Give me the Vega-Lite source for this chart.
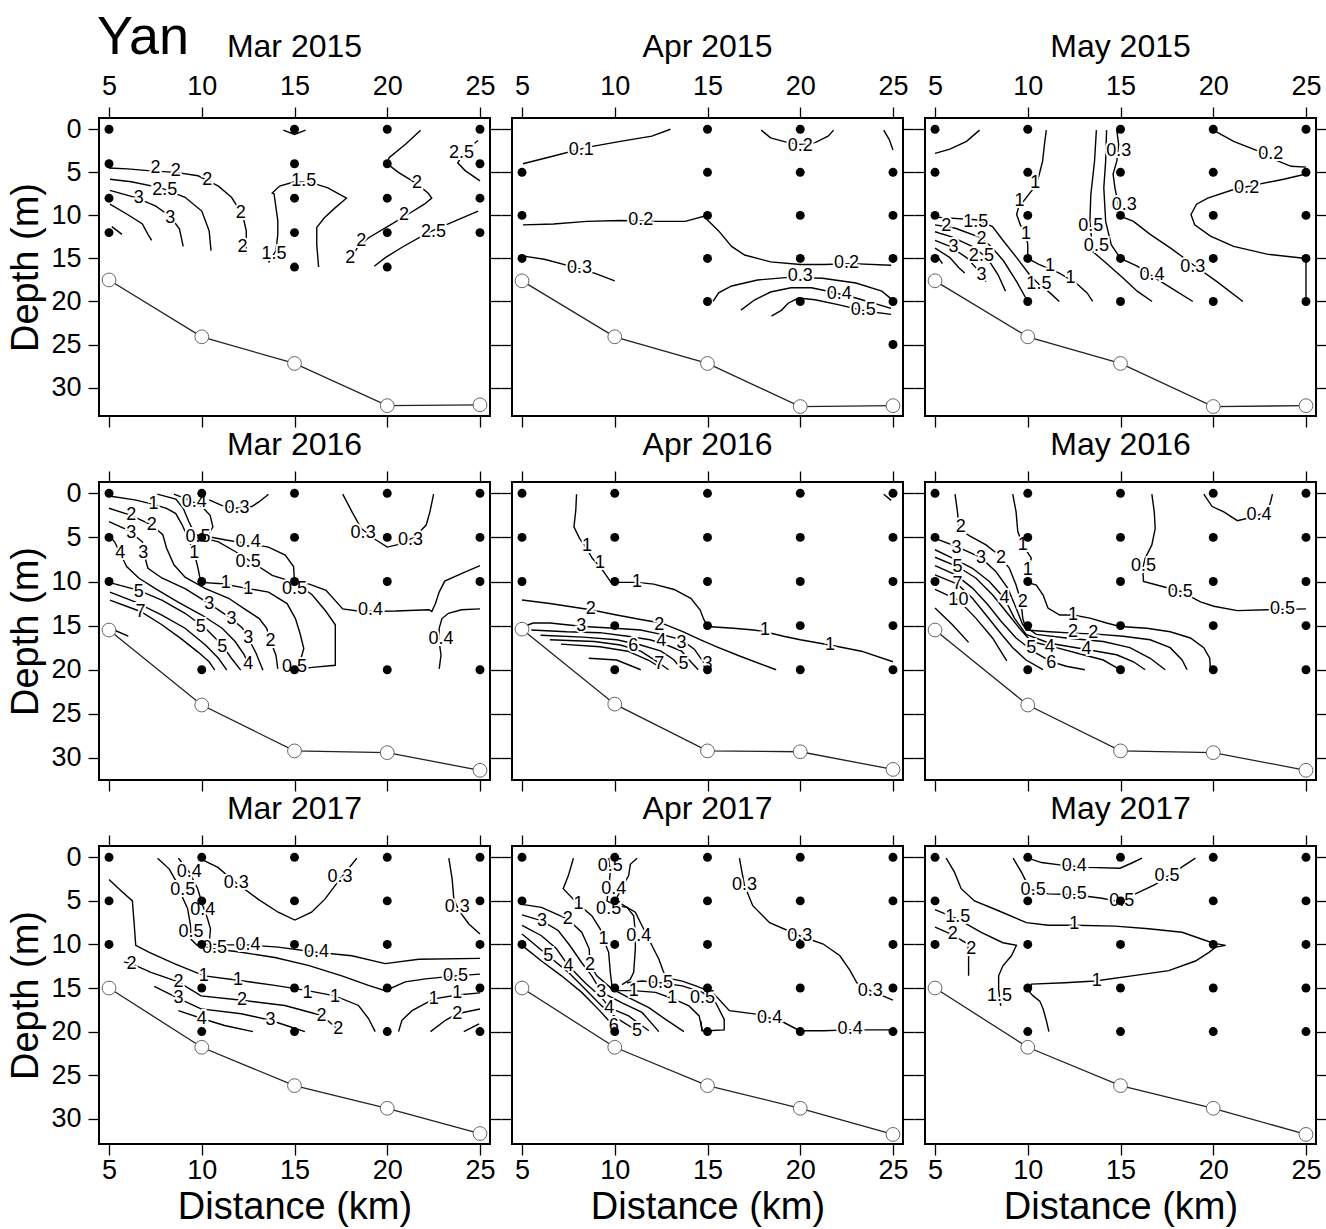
{
"$schema":"https://vega.github.io/schema/vega-lite/v6.json",
"autosize":{"type":"pad"},
"padding":{"left":6,"top":11,"right":0,"bottom":0},
"background":"white",
"config":{"font":"Liberation Sans","view":{"stroke":"black","strokeWidth":2},
"axis":{"domain":false,"grid":false,"ticks":true,"tickSize":11,"tickWidth":1.3,"tickColor":"black","labelFontSize":27,"labelColor":"black","labelPadding":7,"titleFontSize":38,"titleFontWeight":"normal","titleColor":"black","titlePadding":5,"labelFlush":false,"labelOverlap":false},
"title":{"fontSize":32,"fontWeight":"normal","color":"black","offset":8}},
"title":{"text":"Yan","fontSize":54,"fontWeight":"normal","anchor":"start","offset":-35,"dx":90,"color":"black"},
"datasets":{
"lines":[
{"p":"A","c":1,"x":5.0,"y":4.5},{"p":"A","c":1,"x":6.0,"y":4.6},{"p":"A","c":1,"x":7.1,"y":4.8},{"p":"A","c":1,"x":8.6,"y":5.0},{"p":"A","c":1,"x":9.8,"y":5.4},{"p":"A","c":1,"x":10.9,"y":6.6},{"p":"A","c":1,"x":11.6,"y":7.9},{"p":"A","c":1,"x":12.2,"y":9.9},{"p":"A","c":1,"x":12.4,"y":11.8},{"p":"A","c":1,"x":12.4,"y":13.4},{"p":"A","c":1,"x":12.4,"y":14.5},
{"p":"A","c":2,"x":5.05,"y":5.8},{"p":"A","c":2,"x":6.2,"y":6.1},{"p":"A","c":2,"x":7.8,"y":6.8},{"p":"A","c":2,"x":9.1,"y":7.9},{"p":"A","c":2,"x":10.0,"y":9.5},{"p":"A","c":2,"x":10.4,"y":11.8},{"p":"A","c":2,"x":10.5,"y":14.1},
{"p":"A","c":3,"x":5.05,"y":7.1},{"p":"A","c":3,"x":6.4,"y":7.9},{"p":"A","c":3,"x":7.5,"y":8.9},{"p":"A","c":3,"x":8.3,"y":10.1},{"p":"A","c":3,"x":8.8,"y":11.6},{"p":"A","c":3,"x":9.0,"y":13.6},
{"p":"A","c":4,"x":5.05,"y":8.7},{"p":"A","c":4,"x":6.0,"y":9.9},{"p":"A","c":4,"x":6.8,"y":11.0},{"p":"A","c":4,"x":7.1,"y":12.2},{"p":"A","c":4,"x":7.3,"y":12.9},
{"p":"A","c":5,"x":5.15,"y":11.3},{"p":"A","c":5,"x":5.7,"y":12.2},
{"p":"A","c":6,"x":13.6,"y":15.5},{"p":"A","c":6,"x":14.0,"y":14.1},{"p":"A","c":6,"x":14.1,"y":12.2},{"p":"A","c":6,"x":14.1,"y":10.6},{"p":"A","c":6,"x":14.0,"y":9.1},{"p":"A","c":6,"x":13.9,"y":7.5},{"p":"A","c":6,"x":13.8,"y":7.4},{"p":"A","c":6,"x":14.2,"y":6.6},{"p":"A","c":6,"x":15.0,"y":6.1},{"p":"A","c":6,"x":15.9,"y":6.2},{"p":"A","c":6,"x":16.8,"y":6.8},{"p":"A","c":6,"x":17.8,"y":8.0},{"p":"A","c":6,"x":17.2,"y":9.1},{"p":"A","c":6,"x":16.6,"y":10.3},{"p":"A","c":6,"x":16.2,"y":11.4},{"p":"A","c":6,"x":16.2,"y":13.4},{"p":"A","c":6,"x":16.3,"y":16.0},
{"p":"A","c":7,"x":14.4,"y":0.1},{"p":"A","c":7,"x":15.0,"y":0.6},{"p":"A","c":7,"x":15.6,"y":0.1},
{"p":"A","c":8,"x":21.8,"y":0.1},{"p":"A","c":8,"x":21.0,"y":1.7},{"p":"A","c":8,"x":20.1,"y":3.3},{"p":"A","c":8,"x":20.0,"y":4.0},{"p":"A","c":8,"x":20.6,"y":5.0},{"p":"A","c":8,"x":21.5,"y":6.2},{"p":"A","c":8,"x":22.2,"y":7.4},{"p":"A","c":8,"x":22.4,"y":8.0},{"p":"A","c":8,"x":22.0,"y":8.7},{"p":"A","c":8,"x":21.1,"y":9.9},{"p":"A","c":8,"x":20.1,"y":11.2},{"p":"A","c":8,"x":19.0,"y":12.6},{"p":"A","c":8,"x":18.4,"y":13.7},{"p":"A","c":8,"x":17.9,"y":15.7},
{"p":"A","c":9,"x":24.9,"y":9.5},{"p":"A","c":9,"x":23.7,"y":10.6},{"p":"A","c":9,"x":22.2,"y":12.0},{"p":"A","c":9,"x":20.8,"y":13.7},{"p":"A","c":9,"x":19.9,"y":14.9},{"p":"A","c":9,"x":19.3,"y":15.9},
{"p":"A","c":10,"x":24.9,"y":1.3},{"p":"A","c":10,"x":24.2,"y":2.5},{"p":"A","c":10,"x":23.8,"y":3.9},{"p":"A","c":10,"x":24.2,"y":4.8},{"p":"A","c":10,"x":25.0,"y":6.0},

{"p":"B","c":1,"x":5.05,"y":4.0},{"p":"B","c":1,"x":6.7,"y":3.1},{"p":"B","c":1,"x":8.5,"y":2.1},{"p":"B","c":1,"x":10.3,"y":1.4},{"p":"B","c":1,"x":12.0,"y":0.8},{"p":"B","c":1,"x":13.0,"y":0.0},
{"p":"B","c":2,"x":17.9,"y":0.1},{"p":"B","c":2,"x":18.4,"y":1.0},{"p":"B","c":2,"x":19.35,"y":1.55},{"p":"B","c":2,"x":20.0,"y":1.75},{"p":"B","c":2,"x":20.8,"y":1.55},{"p":"B","c":2,"x":21.5,"y":0.8},{"p":"B","c":2,"x":21.8,"y":0.1},
{"p":"B","c":3,"x":24.5,"y":0.1},{"p":"B","c":3,"x":24.8,"y":1.2},{"p":"B","c":3,"x":25.0,"y":2.4},
{"p":"B","c":4,"x":5.05,"y":11.1},{"p":"B","c":4,"x":6.7,"y":11.0},{"p":"B","c":4,"x":8.5,"y":10.7},{"p":"B","c":4,"x":10.3,"y":10.6},{"p":"B","c":4,"x":12.1,"y":10.7},{"p":"B","c":4,"x":13.8,"y":10.7},{"p":"B","c":4,"x":14.8,"y":10.1},{"p":"B","c":4,"x":15.6,"y":11.8},{"p":"B","c":4,"x":16.3,"y":13.6},{"p":"B","c":4,"x":17.0,"y":14.6},{"p":"B","c":4,"x":18.4,"y":15.4},{"p":"B","c":4,"x":20.0,"y":15.7},{"p":"B","c":4,"x":21.3,"y":15.7},{"p":"B","c":4,"x":22.8,"y":15.6},{"p":"B","c":4,"x":24.9,"y":15.8},
{"p":"B","c":5,"x":5.0,"y":14.7},{"p":"B","c":5,"x":6.2,"y":15.1},{"p":"B","c":5,"x":7.6,"y":15.9},{"p":"B","c":5,"x":8.9,"y":16.7},{"p":"B","c":5,"x":10.0,"y":17.6},
{"p":"B","c":6,"x":15.3,"y":20.0},{"p":"B","c":6,"x":15.6,"y":19.0},{"p":"B","c":6,"x":16.3,"y":18.2},{"p":"B","c":6,"x":17.7,"y":17.5},{"p":"B","c":6,"x":19.35,"y":17.2},{"p":"B","c":6,"x":21.2,"y":17.3},{"p":"B","c":6,"x":23.0,"y":17.85},{"p":"B","c":6,"x":24.4,"y":18.8},{"p":"B","c":6,"x":24.9,"y":19.7},
{"p":"B","c":7,"x":16.8,"y":21.0},{"p":"B","c":7,"x":17.55,"y":19.8},{"p":"B","c":7,"x":18.4,"y":18.9},{"p":"B","c":7,"x":19.5,"y":18.4},{"p":"B","c":7,"x":20.6,"y":18.4},{"p":"B","c":7,"x":21.7,"y":18.9},{"p":"B","c":7,"x":23.0,"y":19.6},{"p":"B","c":7,"x":24.9,"y":20.8},
{"p":"B","c":8,"x":18.45,"y":21.7},{"p":"B","c":8,"x":19.0,"y":21.0},{"p":"B","c":8,"x":19.35,"y":20.2},{"p":"B","c":8,"x":19.9,"y":19.6},{"p":"B","c":8,"x":20.8,"y":19.8},{"p":"B","c":8,"x":22.1,"y":20.4},{"p":"B","c":8,"x":23.5,"y":21.1},{"p":"B","c":8,"x":24.9,"y":21.5},

{"p":"C","c":1,"x":5.0,"y":2.8},{"p":"C","c":1,"x":5.8,"y":2.3},{"p":"C","c":1,"x":6.7,"y":1.4},{"p":"C","c":1,"x":7.4,"y":0.1},
{"p":"C","c":2,"x":11.0,"y":0.1},{"p":"C","c":2,"x":10.9,"y":1.75},{"p":"C","c":2,"x":10.8,"y":3.7},{"p":"C","c":2,"x":10.6,"y":5.4},{"p":"C","c":2,"x":10.4,"y":6.6},{"p":"C","c":2,"x":9.9,"y":8.0},{"p":"C","c":2,"x":9.5,"y":9.1},{"p":"C","c":2,"x":9.4,"y":9.9},{"p":"C","c":2,"x":9.6,"y":11.1},{"p":"C","c":2,"x":9.9,"y":12.2},{"p":"C","c":2,"x":10.0,"y":13.4},{"p":"C","c":2,"x":10.0,"y":15.0},{"p":"C","c":2,"x":10.6,"y":15.7},{"p":"C","c":2,"x":11.7,"y":16.7},{"p":"C","c":2,"x":12.6,"y":17.85},{"p":"C","c":2,"x":13.2,"y":19.0},{"p":"C","c":2,"x":13.5,"y":20.0},
{"p":"C","c":3,"x":5.0,"y":10.2},{"p":"C","c":3,"x":7.2,"y":10.5},{"p":"C","c":3,"x":8.1,"y":11.3},{"p":"C","c":3,"x":8.7,"y":13.0},{"p":"C","c":3,"x":9.4,"y":14.9},{"p":"C","c":3,"x":10.1,"y":16.9},{"p":"C","c":3,"x":10.6,"y":18.0},{"p":"C","c":3,"x":11.2,"y":19.0},{"p":"C","c":3,"x":11.7,"y":20.0},
{"p":"C","c":4,"x":5.0,"y":11.1},{"p":"C","c":4,"x":6.1,"y":11.5},{"p":"C","c":4,"x":7.5,"y":12.6},{"p":"C","c":4,"x":8.1,"y":13.8},{"p":"C","c":4,"x":8.7,"y":15.3},{"p":"C","c":4,"x":9.4,"y":17.7},{"p":"C","c":4,"x":10.0,"y":20.0},
{"p":"C","c":5,"x":5.0,"y":11.9},{"p":"C","c":5,"x":5.9,"y":12.5},{"p":"C","c":5,"x":7.0,"y":13.6},{"p":"C","c":5,"x":7.8,"y":14.9},{"p":"C","c":5,"x":8.4,"y":16.9},{"p":"C","c":5,"x":8.8,"y":18.8},
{"p":"C","c":6,"x":5.0,"y":12.9},{"p":"C","c":6,"x":5.8,"y":13.6},{"p":"C","c":6,"x":6.7,"y":14.9},{"p":"C","c":6,"x":7.3,"y":16.3},{"p":"C","c":6,"x":7.75,"y":17.7},
{"p":"C","c":7,"x":5.0,"y":13.8},{"p":"C","c":7,"x":5.8,"y":14.9},{"p":"C","c":7,"x":6.3,"y":16.1},{"p":"C","c":7,"x":6.6,"y":16.7},
{"p":"C","c":8,"x":5.2,"y":15.0},{"p":"C","c":8,"x":5.4,"y":15.6},
{"p":"C","c":9,"x":14.8,"y":0.1},{"p":"C","c":9,"x":14.9,"y":1.75},{"p":"C","c":9,"x":14.8,"y":3.7},{"p":"C","c":9,"x":14.6,"y":5.2},{"p":"C","c":9,"x":14.7,"y":6.8},{"p":"C","c":9,"x":15.0,"y":10.1},{"p":"C","c":9,"x":15.7,"y":10.7},{"p":"C","c":9,"x":16.6,"y":12.2},{"p":"C","c":9,"x":17.7,"y":13.8},{"p":"C","c":9,"x":18.9,"y":15.7},{"p":"C","c":9,"x":20.2,"y":17.7},{"p":"C","c":9,"x":21.6,"y":20.0},
{"p":"C","c":10,"x":14.25,"y":0.1},{"p":"C","c":10,"x":14.2,"y":3.7},{"p":"C","c":10,"x":14.1,"y":6.8},{"p":"C","c":10,"x":14.2,"y":10.7},{"p":"C","c":10,"x":14.5,"y":13.4},{"p":"C","c":10,"x":15.0,"y":15.0},{"p":"C","c":10,"x":15.9,"y":15.9},{"p":"C","c":10,"x":16.6,"y":16.9},{"p":"C","c":10,"x":17.7,"y":18.4},{"p":"C","c":10,"x":18.9,"y":20.0},
{"p":"C","c":11,"x":13.7,"y":0.1},{"p":"C","c":11,"x":13.6,"y":3.7},{"p":"C","c":11,"x":13.4,"y":7.6},{"p":"C","c":11,"x":13.35,"y":10.7},{"p":"C","c":11,"x":13.5,"y":14.2},{"p":"C","c":11,"x":14.1,"y":15.3},{"p":"C","c":11,"x":15.15,"y":17.3},{"p":"C","c":11,"x":15.9,"y":18.8},{"p":"C","c":11,"x":16.7,"y":20.0},
{"p":"C","c":12,"x":20.0,"y":0.1},{"p":"C","c":12,"x":21.1,"y":1.4},{"p":"C","c":12,"x":22.4,"y":2.5},{"p":"C","c":12,"x":23.5,"y":3.7},{"p":"C","c":12,"x":24.2,"y":4.3},{"p":"C","c":12,"x":25.0,"y":4.4},
{"p":"C","c":13,"x":25.0,"y":5.2},{"p":"C","c":13,"x":23.8,"y":5.8},{"p":"C","c":13,"x":22.4,"y":6.4},{"p":"C","c":13,"x":21.1,"y":7.0},{"p":"C","c":13,"x":19.7,"y":8.0},{"p":"C","c":13,"x":19.1,"y":8.7},{"p":"C","c":13,"x":18.8,"y":9.9},{"p":"C","c":13,"x":19.0,"y":11.1},{"p":"C","c":13,"x":19.85,"y":12.4},{"p":"C","c":13,"x":21.1,"y":13.6},{"p":"C","c":13,"x":22.9,"y":14.5},{"p":"C","c":13,"x":25.0,"y":15.0},
{"p":"C","c":14,"x":25.0,"y":15.0},{"p":"C","c":14,"x":25.0,"y":20.0},

{"p":"D","c":1,"x":5.0,"y":0.3},{"p":"D","c":1,"x":6.4,"y":0.75},{"p":"D","c":1,"x":7.4,"y":1.25},{"p":"D","c":1,"x":8.1,"y":1.7},{"p":"D","c":1,"x":8.6,"y":2.3},{"p":"D","c":1,"x":8.95,"y":3.6},{"p":"D","c":1,"x":9.3,"y":5.3},{"p":"D","c":1,"x":9.6,"y":6.8},{"p":"D","c":1,"x":9.8,"y":8.5},{"p":"D","c":1,"x":9.95,"y":10.1},{"p":"D","c":1,"x":11.1,"y":10.25},{"p":"D","c":1,"x":12.5,"y":10.8},{"p":"D","c":1,"x":13.6,"y":11.2},{"p":"D","c":1,"x":14.6,"y":12.5},{"p":"D","c":1,"x":15.05,"y":14.2},{"p":"D","c":1,"x":15.3,"y":15.9},{"p":"D","c":1,"x":15.5,"y":17.6},{"p":"D","c":1,"x":15.3,"y":19.1},{"p":"D","c":1,"x":15.0,"y":19.8},
{"p":"D","c":2,"x":8.5,"y":0.1},{"p":"D","c":2,"x":9.3,"y":0.75},{"p":"D","c":2,"x":10.0,"y":1.5},{"p":"D","c":2,"x":10.45,"y":2.5},{"p":"D","c":2,"x":10.6,"y":3.8},{"p":"D","c":2,"x":10.3,"y":4.9},{"p":"D","c":2,"x":11.3,"y":5.3},{"p":"D","c":2,"x":12.5,"y":5.7},{"p":"D","c":2,"x":13.6,"y":6.1},{"p":"D","c":2,"x":14.5,"y":7.0},{"p":"D","c":2,"x":14.95,"y":8.3},{"p":"D","c":2,"x":15.0,"y":10.0},{"p":"D","c":2,"x":15.8,"y":10.3},{"p":"D","c":2,"x":16.7,"y":11.0},{"p":"D","c":2,"x":17.6,"y":13.1},{"p":"D","c":2,"x":18.6,"y":13.4},{"p":"D","c":2,"x":20.45,"y":13.35},{"p":"D","c":2,"x":22.25,"y":13.2},{"p":"D","c":2,"x":22.4,"y":13.4},{"p":"D","c":2,"x":22.6,"y":12.5},{"p":"D","c":2,"x":22.8,"y":11.2},{"p":"D","c":2,"x":23.1,"y":9.95},{"p":"D","c":2,"x":24.0,"y":9.1},{"p":"D","c":2,"x":25.0,"y":8.2},
{"p":"D","c":3,"x":7.6,"y":0.1},{"p":"D","c":3,"x":8.6,"y":0.65},{"p":"D","c":3,"x":9.0,"y":1.7},{"p":"D","c":3,"x":9.3,"y":3.2},{"p":"D","c":3,"x":9.6,"y":4.5},{"p":"D","c":3,"x":9.95,"y":5.0},{"p":"D","c":3,"x":10.9,"y":5.5},{"p":"D","c":3,"x":11.8,"y":6.6},{"p":"D","c":3,"x":12.7,"y":7.8},{"p":"D","c":3,"x":13.8,"y":9.3},{"p":"D","c":3,"x":15.0,"y":10.1},{"p":"D","c":3,"x":15.95,"y":11.5},{"p":"D","c":3,"x":16.7,"y":13.4},{"p":"D","c":3,"x":17.2,"y":14.9},{"p":"D","c":3,"x":17.2,"y":19.5},{"p":"D","c":3,"x":16.1,"y":19.7},{"p":"D","c":3,"x":15.05,"y":19.95},
{"p":"D","c":4,"x":10.4,"y":0.75},{"p":"D","c":4,"x":11.1,"y":1.4},{"p":"D","c":4,"x":11.8,"y":1.7},{"p":"D","c":4,"x":12.7,"y":1.5},{"p":"D","c":4,"x":13.1,"y":0.95},{"p":"D","c":4,"x":13.6,"y":0.1},
{"p":"D","c":5,"x":17.6,"y":0.1},{"p":"D","c":5,"x":18.1,"y":2.1},{"p":"D","c":5,"x":18.6,"y":4.0},{"p":"D","c":5,"x":19.4,"y":5.3},{"p":"D","c":5,"x":20.0,"y":6.1},{"p":"D","c":5,"x":20.8,"y":5.7},{"p":"D","c":5,"x":21.5,"y":4.9},{"p":"D","c":5,"x":22.1,"y":3.6},{"p":"D","c":5,"x":22.3,"y":2.1},{"p":"D","c":5,"x":22.5,"y":0.1},
{"p":"D","c":6,"x":25.0,"y":13.1},{"p":"D","c":6,"x":24.0,"y":13.2},{"p":"D","c":6,"x":23.3,"y":13.6},{"p":"D","c":6,"x":22.95,"y":14.2},{"p":"D","c":6,"x":22.8,"y":15.3},{"p":"D","c":6,"x":22.8,"y":16.8},{"p":"D","c":6,"x":22.9,"y":18.35},{"p":"D","c":6,"x":22.8,"y":19.9},
{"p":"D","c":7,"x":5.0,"y":1.7},{"p":"D","c":7,"x":6.2,"y":2.5},{"p":"D","c":7,"x":7.3,"y":3.6},{"p":"D","c":7,"x":7.9,"y":4.7},{"p":"D","c":7,"x":8.1,"y":6.2},{"p":"D","c":7,"x":8.5,"y":8.1},{"p":"D","c":7,"x":9.1,"y":9.5},{"p":"D","c":7,"x":10.2,"y":10.8},{"p":"D","c":7,"x":11.45,"y":11.9},{"p":"D","c":7,"x":12.3,"y":13.1},{"p":"D","c":7,"x":13.1,"y":14.2},{"p":"D","c":7,"x":13.5,"y":15.3},{"p":"D","c":7,"x":13.7,"y":16.7},{"p":"D","c":7,"x":14.0,"y":18.35},{"p":"D","c":7,"x":14.1,"y":19.9},
{"p":"D","c":8,"x":5.0,"y":3.2},{"p":"D","c":8,"x":6.04,"y":4.2},{"p":"D","c":8,"x":6.8,"y":5.5},{"p":"D","c":8,"x":6.9,"y":7.0},{"p":"D","c":8,"x":7.1,"y":8.5},{"p":"D","c":8,"x":7.85,"y":9.6},{"p":"D","c":8,"x":9.1,"y":10.8},{"p":"D","c":8,"x":10.4,"y":12.5},{"p":"D","c":8,"x":11.6,"y":14.2},{"p":"D","c":8,"x":12.2,"y":15.3},{"p":"D","c":8,"x":12.5,"y":16.4},{"p":"D","c":8,"x":12.9,"y":18.0},{"p":"D","c":8,"x":13.3,"y":20.05},
{"p":"D","c":9,"x":5.05,"y":4.9},{"p":"D","c":9,"x":5.3,"y":5.5},{"p":"D","c":9,"x":5.6,"y":6.8},{"p":"D","c":9,"x":5.95,"y":8.3},{"p":"D","c":9,"x":6.6,"y":9.6},{"p":"D","c":9,"x":7.5,"y":10.8},{"p":"D","c":9,"x":8.7,"y":12.3},{"p":"D","c":9,"x":10.0,"y":13.8},{"p":"D","c":9,"x":11.1,"y":15.3},{"p":"D","c":9,"x":11.8,"y":16.8},{"p":"D","c":9,"x":12.3,"y":18.35},{"p":"D","c":9,"x":12.6,"y":19.9},
{"p":"D","c":10,"x":5.0,"y":10.1},{"p":"D","c":10,"x":6.6,"y":11.0},{"p":"D","c":10,"x":7.85,"y":12.1},{"p":"D","c":10,"x":9.1,"y":13.6},{"p":"D","c":10,"x":10.2,"y":15.3},{"p":"D","c":10,"x":11.1,"y":17.2},{"p":"D","c":10,"x":11.6,"y":18.7},{"p":"D","c":10,"x":12.1,"y":20.05},
{"p":"D","c":11,"x":5.05,"y":11.2},{"p":"D","c":11,"x":6.4,"y":12.3},{"p":"D","c":11,"x":7.85,"y":13.8},{"p":"D","c":11,"x":9.1,"y":15.3},{"p":"D","c":11,"x":10.2,"y":17.2},{"p":"D","c":11,"x":10.9,"y":18.7},{"p":"D","c":11,"x":11.35,"y":20.05},
{"p":"D","c":12,"x":5.05,"y":12.1},{"p":"D","c":12,"x":6.7,"y":13.4},{"p":"D","c":12,"x":7.85,"y":14.9},{"p":"D","c":12,"x":8.9,"y":16.5},{"p":"D","c":12,"x":9.8,"y":18.0},{"p":"D","c":12,"x":10.4,"y":19.1},{"p":"D","c":12,"x":10.7,"y":20.05},
{"p":"D","c":13,"x":5.05,"y":15.3},{"p":"D","c":13,"x":6.04,"y":16.2},

{"p":"E","c":1,"x":7.94,"y":0.1},{"p":"E","c":1,"x":7.9,"y":1.9},{"p":"E","c":1,"x":7.8,"y":3.8},{"p":"E","c":1,"x":8.1,"y":5.1},{"p":"E","c":1,"x":8.4,"y":6.0},{"p":"E","c":1,"x":8.8,"y":7.4},{"p":"E","c":1,"x":9.2,"y":8.3},{"p":"E","c":1,"x":9.5,"y":9.2},{"p":"E","c":1,"x":9.8,"y":10.1},{"p":"E","c":1,"x":10.3,"y":10.1},{"p":"E","c":1,"x":11.2,"y":10.1},{"p":"E","c":1,"x":12.1,"y":10.3},{"p":"E","c":1,"x":13.2,"y":10.9},{"p":"E","c":1,"x":14.1,"y":11.9},{"p":"E","c":1,"x":14.6,"y":13.2},{"p":"E","c":1,"x":14.8,"y":14.3},{"p":"E","c":1,"x":15.0,"y":15.1},{"p":"E","c":1,"x":16.4,"y":15.3},{"p":"E","c":1,"x":17.5,"y":15.5},{"p":"E","c":1,"x":18.1,"y":15.7},{"p":"E","c":1,"x":19.1,"y":16.2},{"p":"E","c":1,"x":20.0,"y":16.6},{"p":"E","c":1,"x":21.6,"y":17.2},{"p":"E","c":1,"x":23.3,"y":17.9},{"p":"E","c":1,"x":25.0,"y":19.1},
{"p":"E","c":2,"x":5.0,"y":12.1},{"p":"E","c":2,"x":6.5,"y":12.5},{"p":"E","c":2,"x":8.7,"y":13.2},{"p":"E","c":2,"x":10.1,"y":13.8},{"p":"E","c":2,"x":11.4,"y":14.3},{"p":"E","c":2,"x":12.5,"y":14.7},{"p":"E","c":2,"x":13.7,"y":15.7},{"p":"E","c":2,"x":14.6,"y":16.6},{"p":"E","c":2,"x":15.5,"y":17.4},{"p":"E","c":2,"x":16.8,"y":18.5},{"p":"E","c":2,"x":18.7,"y":20.0},
{"p":"E","c":3,"x":5.1,"y":15.1},{"p":"E","c":3,"x":5.6,"y":14.7},{"p":"E","c":3,"x":6.5,"y":14.7},{"p":"E","c":3,"x":8.3,"y":15.1},{"p":"E","c":3,"x":10.0,"y":15.3},{"p":"E","c":3,"x":11.4,"y":15.5},{"p":"E","c":3,"x":12.5,"y":16.0},{"p":"E","c":3,"x":13.6,"y":16.6},{"p":"E","c":3,"x":14.3,"y":17.7},{"p":"E","c":3,"x":14.8,"y":19.2},
{"p":"E","c":4,"x":5.5,"y":15.5},{"p":"E","c":4,"x":7.4,"y":15.7},{"p":"E","c":4,"x":9.2,"y":15.8},{"p":"E","c":4,"x":10.7,"y":16.2},{"p":"E","c":4,"x":11.9,"y":16.6},{"p":"E","c":4,"x":12.8,"y":17.2},{"p":"E","c":4,"x":13.6,"y":17.9},{"p":"E","c":4,"x":14.1,"y":19.1},{"p":"E","c":4,"x":14.5,"y":20.0},
{"p":"E","c":5,"x":6.0,"y":16.1},{"p":"E","c":5,"x":8.3,"y":16.3},{"p":"E","c":5,"x":10.1,"y":16.6},{"p":"E","c":5,"x":11.4,"y":17.2},{"p":"E","c":5,"x":12.5,"y":17.9},{"p":"E","c":5,"x":13.2,"y":18.9},{"p":"E","c":5,"x":13.6,"y":20.0},
{"p":"E","c":6,"x":6.5,"y":16.6},{"p":"E","c":6,"x":8.9,"y":16.8},{"p":"E","c":6,"x":10.3,"y":17.2},{"p":"E","c":6,"x":11.4,"y":17.9},{"p":"E","c":6,"x":12.3,"y":19.1},{"p":"E","c":6,"x":12.9,"y":20.0},
{"p":"E","c":7,"x":7.1,"y":17.1},{"p":"E","c":7,"x":9.2,"y":17.4},{"p":"E","c":7,"x":10.7,"y":17.9},{"p":"E","c":7,"x":11.8,"y":18.9},{"p":"E","c":7,"x":12.5,"y":19.8},
{"p":"E","c":8,"x":8.6,"y":18.7},{"p":"E","c":8,"x":10.1,"y":18.9},{"p":"E","c":8,"x":11.4,"y":20.0},
{"p":"E","c":9,"x":24.5,"y":0.1},{"p":"E","c":9,"x":24.9,"y":0.8},

{"p":"F","c":1,"x":9.19,"y":0.1},{"p":"F","c":1,"x":9.37,"y":2.1},{"p":"F","c":1,"x":9.46,"y":4.3},{"p":"F","c":1,"x":9.73,"y":5.85},{"p":"F","c":1,"x":10.19,"y":7.35},{"p":"F","c":1,"x":10.0,"y":8.9},{"p":"F","c":1,"x":10.0,"y":10.1},{"p":"F","c":1,"x":10.46,"y":10.4},{"p":"F","c":1,"x":10.82,"y":11.5},{"p":"F","c":1,"x":11.09,"y":13.0},{"p":"F","c":1,"x":11.72,"y":13.8},{"p":"F","c":1,"x":12.44,"y":13.8},{"p":"F","c":1,"x":13.35,"y":14.15},{"p":"F","c":1,"x":14.25,"y":14.7},{"p":"F","c":1,"x":14.97,"y":15.1},{"p":"F","c":1,"x":16.42,"y":15.3},{"p":"F","c":1,"x":17.68,"y":15.7},{"p":"F","c":1,"x":18.77,"y":16.4},{"p":"F","c":1,"x":19.49,"y":17.5},{"p":"F","c":1,"x":19.81,"y":18.7},{"p":"F","c":1,"x":19.85,"y":20.0},
{"p":"F","c":2,"x":6.08,"y":0.1},{"p":"F","c":2,"x":6.21,"y":2.1},{"p":"F","c":2,"x":6.3,"y":4.0},{"p":"F","c":2,"x":6.84,"y":4.8},{"p":"F","c":2,"x":7.75,"y":5.85},{"p":"F","c":2,"x":8.47,"y":7.05},{"p":"F","c":2,"x":9.01,"y":8.5},{"p":"F","c":2,"x":9.37,"y":10.4},{"p":"F","c":2,"x":9.64,"y":12.3},{"p":"F","c":2,"x":9.73,"y":14.15},{"p":"F","c":2,"x":9.91,"y":15.5},{"p":"F","c":2,"x":11.18,"y":15.7},{"p":"F","c":2,"x":12.44,"y":15.85},{"p":"F","c":2,"x":13.71,"y":15.96},{"p":"F","c":2,"x":15.15,"y":16.2},{"p":"F","c":2,"x":16.6,"y":16.6},{"p":"F","c":2,"x":17.68,"y":17.5},{"p":"F","c":2,"x":18.32,"y":18.9},{"p":"F","c":2,"x":18.59,"y":20.0},
{"p":"F","c":3,"x":5.0,"y":5.1},{"p":"F","c":3,"x":6.12,"y":6.0},{"p":"F","c":3,"x":7.48,"y":7.3},{"p":"F","c":3,"x":8.29,"y":8.9},{"p":"F","c":3,"x":8.92,"y":10.75},{"p":"F","c":3,"x":9.37,"y":13.0},{"p":"F","c":3,"x":9.73,"y":14.9},{"p":"F","c":3,"x":10.46,"y":16.0},{"p":"F","c":3,"x":12.08,"y":16.4},{"p":"F","c":3,"x":14.07,"y":16.8},{"p":"F","c":3,"x":15.51,"y":17.5},{"p":"F","c":3,"x":16.6,"y":18.7},{"p":"F","c":3,"x":17.41,"y":20.0},
{"p":"F","c":4,"x":5.0,"y":6.4},{"p":"F","c":4,"x":5.94,"y":7.35},{"p":"F","c":4,"x":7.02,"y":8.5},{"p":"F","c":4,"x":7.93,"y":10.0},{"p":"F","c":4,"x":8.74,"y":11.9},{"p":"F","c":4,"x":9.28,"y":14.15},{"p":"F","c":4,"x":9.91,"y":16.0},{"p":"F","c":4,"x":11.18,"y":17.0},{"p":"F","c":4,"x":13.17,"y":17.7},{"p":"F","c":4,"x":14.79,"y":18.3},{"p":"F","c":4,"x":15.7,"y":19.1},{"p":"F","c":4,"x":16.33,"y":20.0},
{"p":"F","c":5,"x":5.0,"y":7.25},{"p":"F","c":5,"x":6.21,"y":8.3},{"p":"F","c":5,"x":7.2,"y":9.6},{"p":"F","c":5,"x":8.1,"y":11.5},{"p":"F","c":5,"x":8.83,"y":13.4},{"p":"F","c":5,"x":9.55,"y":15.3},{"p":"F","c":5,"x":10.19,"y":16.8},{"p":"F","c":5,"x":11.54,"y":17.5},{"p":"F","c":5,"x":12.99,"y":18.3},{"p":"F","c":5,"x":14.07,"y":18.9},{"p":"F","c":5,"x":14.97,"y":20.0},
{"p":"F","c":6,"x":5.0,"y":8.2},{"p":"F","c":6,"x":6.12,"y":9.25},{"p":"F","c":6,"x":7.02,"y":10.75},{"p":"F","c":6,"x":7.84,"y":12.6},{"p":"F","c":6,"x":8.56,"y":14.5},{"p":"F","c":6,"x":9.37,"y":16.4},{"p":"F","c":6,"x":10.28,"y":17.9},{"p":"F","c":6,"x":11.27,"y":19.1},{"p":"F","c":6,"x":12.08,"y":19.6},{"p":"F","c":6,"x":13.08,"y":20.0},
{"p":"F","c":7,"x":5.0,"y":9.25},{"p":"F","c":7,"x":6.21,"y":10.3},{"p":"F","c":7,"x":7.02,"y":11.9},{"p":"F","c":7,"x":7.75,"y":13.8},{"p":"F","c":7,"x":8.47,"y":15.7},{"p":"F","c":7,"x":9.19,"y":17.5},{"p":"F","c":7,"x":9.91,"y":18.9},{"p":"F","c":7,"x":10.82,"y":20.0},
{"p":"F","c":8,"x":5.0,"y":10.9},{"p":"F","c":8,"x":6.26,"y":12.1},{"p":"F","c":8,"x":7.2,"y":14.15},{"p":"F","c":8,"x":8.1,"y":16.4},{"p":"F","c":8,"x":8.87,"y":19.0},
{"p":"F","c":9,"x":5.0,"y":13.0},{"p":"F","c":9,"x":5.94,"y":14.9},{"p":"F","c":9,"x":6.81,"y":16.9},
{"p":"F","c":10,"x":16.69,"y":0.1},{"p":"F","c":10,"x":16.82,"y":2.1},{"p":"F","c":10,"x":16.87,"y":4.0},{"p":"F","c":10,"x":16.69,"y":5.85},{"p":"F","c":10,"x":16.33,"y":7.35},{"p":"F","c":10,"x":16.2,"y":8.5},{"p":"F","c":10,"x":16.24,"y":10.0},{"p":"F","c":10,"x":16.96,"y":10.4},{"p":"F","c":10,"x":18.22,"y":11.1},{"p":"F","c":10,"x":19.31,"y":12.3},{"p":"F","c":10,"x":20.03,"y":12.8},{"p":"F","c":10,"x":21.3,"y":13.3},{"p":"F","c":10,"x":22.92,"y":13.2},{"p":"F","c":10,"x":25.0,"y":13.1},
{"p":"F","c":11,"x":19.49,"y":0.1},{"p":"F","c":11,"x":19.94,"y":1.5},{"p":"F","c":11,"x":20.57,"y":2.1},{"p":"F","c":11,"x":21.3,"y":3.1},{"p":"F","c":11,"x":22.02,"y":2.75},{"p":"F","c":11,"x":22.92,"y":2.1},{"p":"F","c":11,"x":23.1,"y":0.9},{"p":"F","c":11,"x":23.19,"y":0.1},

{"p":"G","c":1,"x":7.62,"y":0.1},{"p":"G","c":1,"x":8.25,"y":1.35},{"p":"G","c":1,"x":8.66,"y":2.9},{"p":"G","c":1,"x":8.88,"y":4.2},{"p":"G","c":1,"x":9.24,"y":5.9},{"p":"G","c":1,"x":9.39,"y":7.8},{"p":"G","c":1,"x":9.42,"y":9.4},{"p":"G","c":1,"x":9.75,"y":10.1},{"p":"G","c":1,"x":10.69,"y":10.5},{"p":"G","c":1,"x":12.13,"y":10.9},{"p":"G","c":1,"x":13.94,"y":11.5},{"p":"G","c":1,"x":15.74,"y":12.4},{"p":"G","c":1,"x":17.55,"y":13.6},{"p":"G","c":1,"x":18.99,"y":14.7},{"p":"G","c":1,"x":19.89,"y":15.3},{"p":"G","c":1,"x":20.97,"y":14.3},{"p":"G","c":1,"x":22.06,"y":13.95},{"p":"G","c":1,"x":23.68,"y":13.6},{"p":"G","c":1,"x":25.0,"y":13.4},
{"p":"G","c":2,"x":8.74,"y":0.1},{"p":"G","c":2,"x":9.33,"y":1.7},{"p":"G","c":2,"x":9.78,"y":3.6},{"p":"G","c":2,"x":10.05,"y":5.5},{"p":"G","c":2,"x":10.32,"y":7.1},{"p":"G","c":2,"x":10.47,"y":8.2},{"p":"G","c":2,"x":10.42,"y":9.4},{"p":"G","c":2,"x":10.05,"y":9.9},{"p":"G","c":2,"x":11.23,"y":10.05},{"p":"G","c":2,"x":12.49,"y":10.05},{"p":"G","c":2,"x":14.12,"y":10.3},{"p":"G","c":2,"x":16.19,"y":10.9},{"p":"G","c":2,"x":18.09,"y":11.3},{"p":"G","c":2,"x":19.89,"y":12.2},{"p":"G","c":2,"x":21.7,"y":11.7},{"p":"G","c":2,"x":25.0,"y":11.6},
{"p":"G","c":3,"x":9.96,"y":0.2},{"p":"G","c":3,"x":10.87,"y":1.15},{"p":"G","c":3,"x":11.86,"y":2.95},{"p":"G","c":3,"x":13.03,"y":4.8},{"p":"G","c":3,"x":14.12,"y":6.3},{"p":"G","c":3,"x":15.02,"y":7.2},{"p":"G","c":3,"x":15.92,"y":6.3},{"p":"G","c":3,"x":16.64,"y":4.8},{"p":"G","c":3,"x":17.45,"y":2.5},{"p":"G","c":3,"x":18.36,"y":0.1},
{"p":"G","c":4,"x":23.32,"y":0.1},{"p":"G","c":4,"x":23.5,"y":2.5},{"p":"G","c":4,"x":23.59,"y":4.8},{"p":"G","c":4,"x":23.86,"y":6.1},{"p":"G","c":4,"x":24.4,"y":7.65},{"p":"G","c":4,"x":25.0,"y":8.8},
{"p":"G","c":5,"x":5.0,"y":2.55},{"p":"G","c":5,"x":5.63,"y":3.8},{"p":"G","c":5,"x":6.26,"y":5.0},{"p":"G","c":5,"x":6.35,"y":7.45},{"p":"G","c":5,"x":6.44,"y":10.1},{"p":"G","c":5,"x":7.17,"y":10.9},{"p":"G","c":5,"x":8.52,"y":12.2},{"p":"G","c":5,"x":10.14,"y":13.6},{"p":"G","c":5,"x":11.95,"y":14.1},{"p":"G","c":5,"x":13.94,"y":14.7},{"p":"G","c":5,"x":15.7,"y":15.3},{"p":"G","c":5,"x":17.18,"y":15.9},{"p":"G","c":5,"x":18.45,"y":17.0},{"p":"G","c":5,"x":18.99,"y":18.5},{"p":"G","c":5,"x":19.35,"y":20.0},
{"p":"G","c":6,"x":20.61,"y":20.0},{"p":"G","c":6,"x":20.79,"y":18.7},{"p":"G","c":6,"x":21.34,"y":17.6},{"p":"G","c":6,"x":22.51,"y":16.25},{"p":"G","c":6,"x":23.77,"y":15.8},{"p":"G","c":6,"x":25.0,"y":15.55},
{"p":"G","c":7,"x":5.8,"y":12.0},{"p":"G","c":7,"x":6.21,"y":12.2},{"p":"G","c":7,"x":7.26,"y":13.2},{"p":"G","c":7,"x":8.74,"y":14.3},{"p":"G","c":7,"x":9.96,"y":15.9},{"p":"G","c":7,"x":12.17,"y":16.4},{"p":"G","c":7,"x":14.48,"y":17.0},{"p":"G","c":7,"x":16.46,"y":18.15},{"p":"G","c":7,"x":17.36,"y":19.75},
{"p":"G","c":8,"x":7.44,"y":14.8},{"p":"G","c":8,"x":8.74,"y":16.2},{"p":"G","c":8,"x":9.96,"y":17.4},{"p":"G","c":8,"x":12.13,"y":17.95},{"p":"G","c":8,"x":13.7,"y":18.7},{"p":"G","c":8,"x":14.84,"y":19.5},{"p":"G","c":8,"x":15.56,"y":20.0},
{"p":"G","c":9,"x":8.74,"y":17.6},{"p":"G","c":9,"x":10.0,"y":18.5},{"p":"G","c":9,"x":11.23,"y":19.3},{"p":"G","c":9,"x":12.76,"y":20.0},
{"p":"G","c":10,"x":22.33,"y":20.0},{"p":"G","c":10,"x":23.14,"y":18.7},{"p":"G","c":10,"x":23.77,"y":17.95},{"p":"G","c":10,"x":25.0,"y":17.4},
{"p":"G","c":11,"x":24.13,"y":20.0},{"p":"G","c":11,"x":24.95,"y":19.1},

{"p":"H","c":1,"x":16.72,"y":0.1},{"p":"H","c":1,"x":16.99,"y":3.2},{"p":"H","c":1,"x":17.44,"y":5.55},{"p":"H","c":1,"x":18.35,"y":7.5},{"p":"H","c":1,"x":19.97,"y":9.0},{"p":"H","c":1,"x":21.24,"y":9.95},{"p":"H","c":1,"x":22.14,"y":11.3},{"p":"H","c":1,"x":22.69,"y":13.0},{"p":"H","c":1,"x":23.05,"y":14.4},{"p":"H","c":1,"x":23.77,"y":15.3},{"p":"H","c":1,"x":25.0,"y":16.4},
{"p":"H","c":2,"x":9.67,"y":0.1},{"p":"H","c":2,"x":9.76,"y":1.7},{"p":"H","c":2,"x":9.67,"y":3.6},{"p":"H","c":2,"x":9.58,"y":5.0},{"p":"H","c":2,"x":10.03,"y":5.55},{"p":"H","c":2,"x":10.66,"y":5.75},{"p":"H","c":2,"x":11.02,"y":6.7},{"p":"H","c":2,"x":11.11,"y":8.6},{"p":"H","c":2,"x":11.11,"y":10.5},{"p":"H","c":2,"x":11.02,"y":13.2},{"p":"H","c":2,"x":10.84,"y":14.0},{"p":"H","c":2,"x":10.39,"y":14.6},
{"p":"H","c":3,"x":11.2,"y":0.1},{"p":"H","c":3,"x":10.84,"y":0.8},{"p":"H","c":3,"x":10.75,"y":2.1},{"p":"H","c":3,"x":10.39,"y":3.45},{"p":"H","c":3,"x":10.12,"y":4.6},{"p":"H","c":3,"x":10.39,"y":5.4},{"p":"H","c":3,"x":11.11,"y":6.3},{"p":"H","c":3,"x":11.47,"y":7.85},{"p":"H","c":3,"x":11.93,"y":9.8},{"p":"H","c":3,"x":12.38,"y":11.7},{"p":"H","c":3,"x":12.74,"y":13.8},{"p":"H","c":3,"x":13.64,"y":14.2},{"p":"H","c":3,"x":14.37,"y":14.75},{"p":"H","c":3,"x":15.27,"y":15.5},{"p":"H","c":3,"x":16.18,"y":17.6},{"p":"H","c":3,"x":17.62,"y":18.0},{"p":"H","c":3,"x":19.07,"y":18.9},{"p":"H","c":3,"x":19.97,"y":19.9},{"p":"H","c":3,"x":21.24,"y":19.9},{"p":"H","c":3,"x":22.69,"y":19.8},{"p":"H","c":3,"x":25.0,"y":19.8},
{"p":"H","c":4,"x":10.66,"y":14.4},{"p":"H","c":4,"x":11.47,"y":14.2},{"p":"H","c":4,"x":12.47,"y":14.4},{"p":"H","c":4,"x":13.64,"y":14.75},{"p":"H","c":4,"x":14.73,"y":15.5},{"p":"H","c":4,"x":15.45,"y":16.7},{"p":"H","c":4,"x":15.9,"y":18.6},{"p":"H","c":4,"x":15.9,"y":19.8},{"p":"H","c":4,"x":15.0,"y":19.9},{"p":"H","c":4,"x":14.7,"y":19.9},{"p":"H","c":4,"x":14.64,"y":18.8},
{"p":"H","c":5,"x":7.77,"y":0.1},{"p":"H","c":5,"x":7.5,"y":2.1},{"p":"H","c":5,"x":7.22,"y":3.6},{"p":"H","c":5,"x":8.04,"y":5.4},{"p":"H","c":5,"x":8.76,"y":6.7},{"p":"H","c":5,"x":9.21,"y":8.2},{"p":"H","c":5,"x":9.39,"y":9.4},{"p":"H","c":5,"x":9.67,"y":10.9},{"p":"H","c":5,"x":9.76,"y":13.2},{"p":"H","c":5,"x":9.85,"y":14.75},{"p":"H","c":5,"x":10.03,"y":15.3},{"p":"H","c":5,"x":11.02,"y":15.3},{"p":"H","c":5,"x":12.2,"y":15.5},{"p":"H","c":5,"x":13.1,"y":16.2},{"p":"H","c":5,"x":14.0,"y":17.05},{"p":"H","c":5,"x":14.55,"y":18.2},{"p":"H","c":5,"x":14.73,"y":19.9},
{"p":"H","c":6,"x":5.0,"y":5.4},{"p":"H","c":6,"x":6.05,"y":5.75},{"p":"H","c":6,"x":7.46,"y":7.1},{"p":"H","c":6,"x":8.22,"y":8.6},{"p":"H","c":6,"x":8.62,"y":10.5},{"p":"H","c":6,"x":8.67,"y":12.3},{"p":"H","c":6,"x":9.03,"y":13.6},{"p":"H","c":6,"x":9.85,"y":15.1},{"p":"H","c":6,"x":10.75,"y":16.1},{"p":"H","c":6,"x":11.84,"y":17.25},{"p":"H","c":6,"x":12.74,"y":18.6},{"p":"H","c":6,"x":13.73,"y":20.0},
{"p":"H","c":7,"x":5.0,"y":6.6},{"p":"H","c":7,"x":6.08,"y":7.3},{"p":"H","c":7,"x":6.95,"y":8.4},{"p":"H","c":7,"x":7.59,"y":10.15},{"p":"H","c":7,"x":8.22,"y":12.1},{"p":"H","c":7,"x":8.76,"y":13.6},{"p":"H","c":7,"x":9.27,"y":15.45},{"p":"H","c":7,"x":10.39,"y":16.7},{"p":"H","c":7,"x":11.47,"y":17.8},{"p":"H","c":7,"x":12.38,"y":20.0},
{"p":"H","c":8,"x":5.0,"y":7.8},{"p":"H","c":8,"x":6.05,"y":9.0},{"p":"H","c":8,"x":6.86,"y":10.5},{"p":"H","c":8,"x":7.5,"y":12.45},{"p":"H","c":8,"x":8.4,"y":14.4},{"p":"H","c":8,"x":9.3,"y":16.1},{"p":"H","c":8,"x":9.7,"y":17.25},{"p":"H","c":8,"x":10.75,"y":18.2},{"p":"H","c":8,"x":11.84,"y":19.9},
{"p":"H","c":9,"x":5.0,"y":8.8},{"p":"H","c":9,"x":6.41,"y":11.3},{"p":"H","c":9,"x":7.5,"y":13.2},{"p":"H","c":9,"x":8.4,"y":15.1},{"p":"H","c":9,"x":9.3,"y":17.05},{"p":"H","c":9,"x":10.21,"y":18.6},{"p":"H","c":9,"x":11.2,"y":19.9},
{"p":"H","c":10,"x":5.0,"y":10.1},{"p":"H","c":10,"x":6.05,"y":11.9},{"p":"H","c":10,"x":7.13,"y":13.6},{"p":"H","c":10,"x":8.22,"y":15.5},{"p":"H","c":10,"x":9.12,"y":17.45},{"p":"H","c":10,"x":9.94,"y":19.35},{"p":"H","c":10,"x":10.12,"y":20.0},

{"p":"I","c":1,"x":10.02,"y":0.1},{"p":"I","c":1,"x":10.74,"y":0.6},{"p":"I","c":1,"x":11.82,"y":0.9},{"p":"I","c":1,"x":13.27,"y":1.15},{"p":"I","c":1,"x":14.98,"y":1.25},{"p":"I","c":1,"x":15.61,"y":0.65},{"p":"I","c":1,"x":16.16,"y":0.1},
{"p":"I","c":2,"x":9.21,"y":0.1},{"p":"I","c":2,"x":9.66,"y":1.7},{"p":"I","c":2,"x":10.11,"y":3.65},{"p":"I","c":2,"x":11.1,"y":4.2},{"p":"I","c":2,"x":12.55,"y":4.3},{"p":"I","c":2,"x":13.99,"y":4.7},{"p":"I","c":2,"x":14.71,"y":5.0},{"p":"I","c":2,"x":15.61,"y":4.4},{"p":"I","c":2,"x":16.88,"y":3.1},{"p":"I","c":2,"x":18.14,"y":1.35},{"p":"I","c":2,"x":19.04,"y":0.1},
{"p":"I","c":3,"x":5.6,"y":0.1},{"p":"I","c":3,"x":6.05,"y":1.7},{"p":"I","c":3,"x":6.41,"y":3.6},{"p":"I","c":3,"x":7.13,"y":5.0},{"p":"I","c":3,"x":8.39,"y":6.1},{"p":"I","c":3,"x":9.93,"y":7.5},{"p":"I","c":3,"x":11.1,"y":7.8},{"p":"I","c":3,"x":12.55,"y":7.8},{"p":"I","c":3,"x":14.71,"y":7.9},{"p":"I","c":3,"x":16.52,"y":8.2},{"p":"I","c":3,"x":18.32,"y":8.6},{"p":"I","c":3,"x":19.4,"y":9.4},{"p":"I","c":3,"x":20.0,"y":9.85},{"p":"I","c":3,"x":20.67,"y":10.1},{"p":"I","c":3,"x":20.13,"y":10.3},{"p":"I","c":3,"x":19.77,"y":10.9},{"p":"I","c":3,"x":19.04,"y":11.9},{"p":"I","c":3,"x":17.6,"y":13.0},{"p":"I","c":3,"x":15.61,"y":13.6},{"p":"I","c":3,"x":13.63,"y":14.2},{"p":"I","c":3,"x":12.0,"y":14.4},{"p":"I","c":3,"x":10.2,"y":14.55},{"p":"I","c":3,"x":10.11,"y":15.5},{"p":"I","c":3,"x":10.29,"y":15.9},{"p":"I","c":3,"x":10.65,"y":16.5},{"p":"I","c":3,"x":10.83,"y":17.4},{"p":"I","c":3,"x":11.01,"y":18.8},{"p":"I","c":3,"x":11.14,"y":20.0},
{"p":"I","c":4,"x":5.0,"y":6.0},{"p":"I","c":4,"x":6.23,"y":7.1},{"p":"I","c":4,"x":7.49,"y":8.6},{"p":"I","c":4,"x":8.66,"y":9.8},{"p":"I","c":4,"x":9.39,"y":10.1},{"p":"I","c":4,"x":9.12,"y":11.3},{"p":"I","c":4,"x":8.66,"y":12.45},{"p":"I","c":4,"x":8.43,"y":13.6},{"p":"I","c":4,"x":8.43,"y":15.1},{"p":"I","c":4,"x":8.54,"y":17.05},
{"p":"I","c":5,"x":5.0,"y":8.0},{"p":"I","c":5,"x":5.87,"y":8.8},{"p":"I","c":5,"x":6.77,"y":9.95},{"p":"I","c":5,"x":6.81,"y":11.3},{"p":"I","c":5,"x":6.81,"y":13.6}
],
"labels":[
{"p":"A","t":"2","x":7.5,"y":4.5},{"p":"A","t":"2","x":8.6,"y":4.8},{"p":"A","t":"2","x":10.3,"y":5.9},{"p":"A","t":"2","x":12.1,"y":9.7},{"p":"A","t":"2","x":12.2,"y":13.7},{"p":"A","t":"2.5","x":8.0,"y":7.1},{"p":"A","t":"3","x":6.6,"y":8.0},{"p":"A","t":"3","x":8.3,"y":10.3},{"p":"A","t":"1.5","x":15.5,"y":6.0},{"p":"A","t":"1.5","x":13.9,"y":14.5},{"p":"A","t":"2","x":21.6,"y":6.2},{"p":"A","t":"2","x":20.9,"y":9.9},{"p":"A","t":"2","x":18.6,"y":13.0},{"p":"A","t":"2","x":18.0,"y":14.9},{"p":"A","t":"2.5","x":22.5,"y":11.9},{"p":"A","t":"2.5","x":24.0,"y":2.8},
{"p":"B","t":"0.1","x":8.2,"y":2.4},{"p":"B","t":"0.2","x":20.0,"y":1.9},{"p":"B","t":"0.2","x":11.4,"y":10.5},{"p":"B","t":"0.2","x":22.5,"y":15.5},{"p":"B","t":"0.3","x":8.1,"y":16.1},{"p":"B","t":"0.3","x":20.0,"y":17.0},{"p":"B","t":"0.4","x":22.1,"y":19.1},{"p":"B","t":"0.5","x":23.4,"y":21.0},
{"p":"C","t":"1","x":10.4,"y":6.2},{"p":"C","t":"1","x":9.55,"y":8.3},{"p":"C","t":"1","x":9.9,"y":12.2},{"p":"C","t":"1","x":11.2,"y":15.9},{"p":"C","t":"1","x":12.3,"y":17.3},{"p":"C","t":"1.5","x":7.2,"y":10.8},{"p":"C","t":"1.5","x":10.6,"y":18.0},{"p":"C","t":"2","x":5.6,"y":11.25},{"p":"C","t":"2","x":7.5,"y":12.8},{"p":"C","t":"2.5","x":7.5,"y":14.7},{"p":"C","t":"3","x":6.0,"y":13.7},{"p":"C","t":"3","x":7.5,"y":16.9},{"p":"C","t":"0.3","x":14.9,"y":2.5},{"p":"C","t":"0.3","x":15.2,"y":8.8},{"p":"C","t":"0.3","x":18.9,"y":16.0},{"p":"C","t":"0.4","x":16.7,"y":16.9},{"p":"C","t":"0.5","x":13.4,"y":11.25},{"p":"C","t":"0.5","x":13.7,"y":13.6},{"p":"C","t":"0.2","x":23.1,"y":2.9},{"p":"C","t":"0.2","x":21.8,"y":6.8},
{"p":"D","t":"1","x":7.4,"y":1.25},{"p":"D","t":"1","x":9.6,"y":6.8},{"p":"D","t":"1","x":11.3,"y":10.2},{"p":"D","t":"1","x":12.5,"y":10.8},{"p":"D","t":"0.4","x":9.6,"y":0.95},{"p":"D","t":"0.4","x":12.5,"y":5.5},{"p":"D","t":"0.4","x":19.1,"y":13.2},{"p":"D","t":"0.5","x":9.8,"y":4.9},{"p":"D","t":"0.5","x":12.5,"y":7.8},{"p":"D","t":"0.5","x":15.0,"y":10.8},{"p":"D","t":"0.5","x":15.0,"y":19.7},{"p":"D","t":"0.3","x":11.9,"y":1.7},{"p":"D","t":"0.3","x":18.7,"y":4.5},{"p":"D","t":"0.3","x":21.25,"y":5.3},{"p":"D","t":"0.4","x":22.9,"y":16.5},{"p":"D","t":"2","x":6.2,"y":2.5},{"p":"D","t":"2","x":7.3,"y":3.6},{"p":"D","t":"2","x":13.7,"y":16.7},{"p":"D","t":"3","x":6.2,"y":4.5},{"p":"D","t":"3","x":6.85,"y":6.8},{"p":"D","t":"3","x":10.4,"y":12.5},{"p":"D","t":"3","x":11.6,"y":14.2},{"p":"D","t":"3","x":12.5,"y":16.4},{"p":"D","t":"4","x":5.6,"y":6.8},{"p":"D","t":"4","x":12.5,"y":19.3},{"p":"D","t":"5","x":6.6,"y":11.2},{"p":"D","t":"5","x":11.1,"y":17.4},{"p":"D","t":"5","x":9.95,"y":15.2},{"p":"D","t":"7","x":6.7,"y":13.4},
{"p":"E","t":"1","x":8.5,"y":6.0},{"p":"E","t":"1","x":9.2,"y":7.9},{"p":"E","t":"1","x":11.2,"y":10.1},{"p":"E","t":"1","x":18.1,"y":15.5},{"p":"E","t":"1","x":21.6,"y":17.2},{"p":"E","t":"2","x":8.7,"y":13.1},{"p":"E","t":"2","x":12.4,"y":14.9},{"p":"E","t":"3","x":8.2,"y":15.0},{"p":"E","t":"3","x":13.6,"y":17.0},{"p":"E","t":"3","x":15.0,"y":19.4},{"p":"E","t":"4","x":12.5,"y":16.8},{"p":"E","t":"5","x":13.7,"y":19.4},{"p":"E","t":"6","x":11.0,"y":17.3},{"p":"E","t":"7","x":12.4,"y":19.3},
{"p":"F","t":"1","x":9.73,"y":5.85},{"p":"F","t":"1","x":10.0,"y":8.7},{"p":"F","t":"1","x":12.44,"y":13.8},{"p":"F","t":"2","x":6.39,"y":3.8},{"p":"F","t":"2","x":8.56,"y":7.3},{"p":"F","t":"2","x":9.73,"y":12.3},{"p":"F","t":"2","x":12.44,"y":15.7},{"p":"F","t":"2","x":13.53,"y":15.85},{"p":"F","t":"3","x":6.16,"y":6.15},{"p":"F","t":"3","x":7.48,"y":7.3},{"p":"F","t":"4","x":8.74,"y":11.9},{"p":"F","t":"4","x":11.18,"y":17.4},{"p":"F","t":"4","x":13.17,"y":17.7},{"p":"F","t":"5","x":6.21,"y":8.3},{"p":"F","t":"5","x":10.19,"y":17.5},{"p":"F","t":"6","x":11.27,"y":19.25},{"p":"F","t":"7","x":6.21,"y":10.3},{"p":"F","t":"10","x":6.26,"y":12.1},{"p":"F","t":"0.5","x":16.24,"y":8.2},{"p":"F","t":"0.5","x":18.22,"y":11.2},{"p":"F","t":"0.5","x":23.73,"y":13.1},{"p":"F","t":"0.4","x":22.47,"y":2.45},
{"p":"G","t":"0.5","x":8.97,"y":3.8},{"p":"G","t":"0.5","x":9.42,"y":8.6},{"p":"G","t":"0.5","x":10.69,"y":10.4},{"p":"G","t":"0.5","x":23.68,"y":13.6},{"p":"G","t":"0.4","x":9.33,"y":1.7},{"p":"G","t":"0.4","x":10.05,"y":6.1},{"p":"G","t":"0.4","x":12.49,"y":10.05},{"p":"G","t":"0.4","x":16.19,"y":10.9},{"p":"G","t":"0.3","x":11.86,"y":2.95},{"p":"G","t":"0.3","x":17.45,"y":2.3},{"p":"G","t":"0.3","x":23.77,"y":5.7},{"p":"G","t":"1","x":10.11,"y":13.6},{"p":"G","t":"1","x":11.95,"y":14.1},{"p":"G","t":"1","x":15.7,"y":15.55},{"p":"G","t":"1","x":17.18,"y":16.05},{"p":"G","t":"1","x":22.51,"y":16.25},{"p":"G","t":"1","x":23.77,"y":15.55},{"p":"G","t":"2","x":6.21,"y":12.2},{"p":"G","t":"2","x":8.74,"y":14.3},{"p":"G","t":"2","x":12.17,"y":16.4},{"p":"G","t":"2","x":16.46,"y":18.2},{"p":"G","t":"2","x":17.36,"y":19.75},{"p":"G","t":"2","x":23.77,"y":17.95},{"p":"G","t":"3","x":8.74,"y":16.2},{"p":"G","t":"3","x":13.7,"y":18.7},{"p":"G","t":"4","x":10.0,"y":18.5},
{"p":"H","t":"0.3","x":16.99,"y":3.2},{"p":"H","t":"0.3","x":19.97,"y":9.0},{"p":"H","t":"0.3","x":23.77,"y":15.3},{"p":"H","t":"0.5","x":9.76,"y":0.95},{"p":"H","t":"0.5","x":9.67,"y":5.9},{"p":"H","t":"0.4","x":9.94,"y":3.6},{"p":"H","t":"0.4","x":11.29,"y":9.0},{"p":"H","t":"0.4","x":18.35,"y":18.4},{"p":"H","t":"0.4","x":22.69,"y":19.7},{"p":"H","t":"0.5","x":12.47,"y":14.4},{"p":"H","t":"0.5","x":14.73,"y":16.1},{"p":"H","t":"1","x":8.04,"y":5.4},{"p":"H","t":"1","x":9.39,"y":9.4},{"p":"H","t":"1","x":11.02,"y":15.3},{"p":"H","t":"1","x":13.1,"y":16.2},{"p":"H","t":"2","x":7.46,"y":7.1},{"p":"H","t":"2","x":8.67,"y":12.3},{"p":"H","t":"3","x":6.08,"y":7.3},{"p":"H","t":"3","x":9.27,"y":15.45},{"p":"H","t":"4","x":7.5,"y":12.45},{"p":"H","t":"4","x":9.7,"y":17.25},{"p":"H","t":"5","x":6.41,"y":11.3},{"p":"H","t":"5","x":11.2,"y":19.9},{"p":"H","t":"6","x":9.94,"y":19.35},
{"p":"I","t":"0.4","x":12.51,"y":0.95},{"p":"I","t":"0.5","x":10.29,"y":3.7},{"p":"I","t":"0.5","x":12.51,"y":4.2},{"p":"I","t":"0.5","x":15.07,"y":5.05},{"p":"I","t":"0.5","x":17.51,"y":2.1},{"p":"I","t":"1","x":12.51,"y":7.7},{"p":"I","t":"1","x":13.72,"y":14.2},{"p":"I","t":"1.5","x":6.23,"y":6.8},{"p":"I","t":"1.5","x":8.48,"y":15.9},{"p":"I","t":"2","x":5.96,"y":8.8},{"p":"I","t":"2","x":6.95,"y":10.5}
],
"dots":[
{"p":"A","x":5,"y":0},{"p":"A","x":5,"y":4},{"p":"A","x":5,"y":8},{"p":"A","x":5,"y":12},{"p":"A","x":15,"y":0},{"p":"A","x":15,"y":4},{"p":"A","x":15,"y":8},{"p":"A","x":15,"y":12},{"p":"A","x":15,"y":16},{"p":"A","x":20,"y":0},{"p":"A","x":20,"y":4},{"p":"A","x":20,"y":8},{"p":"A","x":20,"y":12},{"p":"A","x":20,"y":16},{"p":"A","x":25,"y":0},{"p":"A","x":25,"y":4},{"p":"A","x":25,"y":8},{"p":"A","x":25,"y":12},
{"p":"B","x":5,"y":5},{"p":"B","x":5,"y":10},{"p":"B","x":5,"y":15},{"p":"B","x":15,"y":0},{"p":"B","x":15,"y":5},{"p":"B","x":15,"y":10},{"p":"B","x":15,"y":15},{"p":"B","x":15,"y":20},{"p":"B","x":20,"y":0},{"p":"B","x":20,"y":5},{"p":"B","x":20,"y":10},{"p":"B","x":20,"y":15},{"p":"B","x":20,"y":20},{"p":"B","x":25,"y":5},{"p":"B","x":25,"y":10},{"p":"B","x":25,"y":15},{"p":"B","x":25,"y":20},{"p":"B","x":25,"y":25},
{"p":"C","x":5,"y":0},{"p":"C","x":5,"y":5},{"p":"C","x":5,"y":10},{"p":"C","x":5,"y":15},{"p":"C","x":10,"y":0},{"p":"C","x":10,"y":5},{"p":"C","x":10,"y":10},{"p":"C","x":10,"y":15},{"p":"C","x":10,"y":20},{"p":"C","x":15,"y":0},{"p":"C","x":15,"y":5},{"p":"C","x":15,"y":10},{"p":"C","x":15,"y":15},{"p":"C","x":15,"y":20},{"p":"C","x":20,"y":0},{"p":"C","x":20,"y":5},{"p":"C","x":20,"y":10},{"p":"C","x":20,"y":15},{"p":"C","x":20,"y":20},{"p":"C","x":25,"y":0},{"p":"C","x":25,"y":5},{"p":"C","x":25,"y":10},{"p":"C","x":25,"y":15},{"p":"C","x":25,"y":20},
{"p":"D","x":5,"y":0},{"p":"D","x":5,"y":5},{"p":"D","x":5,"y":10},{"p":"D","x":10,"y":0},{"p":"D","x":10,"y":5},{"p":"D","x":10,"y":10},{"p":"D","x":10,"y":20},{"p":"D","x":15,"y":0},{"p":"D","x":15,"y":5},{"p":"D","x":15,"y":10},{"p":"D","x":15,"y":20},{"p":"D","x":20,"y":0},{"p":"D","x":20,"y":5},{"p":"D","x":20,"y":10},{"p":"D","x":20,"y":20},{"p":"D","x":25,"y":0},{"p":"D","x":25,"y":5},{"p":"D","x":25,"y":10},{"p":"D","x":25,"y":20},
{"p":"E","x":5,"y":0},{"p":"E","x":5,"y":5},{"p":"E","x":5,"y":10},{"p":"E","x":10,"y":0},{"p":"E","x":10,"y":5},{"p":"E","x":10,"y":10},{"p":"E","x":10,"y":15},{"p":"E","x":10,"y":20},{"p":"E","x":15,"y":0},{"p":"E","x":15,"y":5},{"p":"E","x":15,"y":10},{"p":"E","x":15,"y":15},{"p":"E","x":15,"y":20},{"p":"E","x":20,"y":0},{"p":"E","x":20,"y":5},{"p":"E","x":20,"y":10},{"p":"E","x":20,"y":15},{"p":"E","x":20,"y":20},{"p":"E","x":25,"y":0},{"p":"E","x":25,"y":5},{"p":"E","x":25,"y":10},{"p":"E","x":25,"y":15},{"p":"E","x":25,"y":20},
{"p":"F","x":5,"y":0},{"p":"F","x":5,"y":5},{"p":"F","x":5,"y":10},{"p":"F","x":10,"y":0},{"p":"F","x":10,"y":5},{"p":"F","x":10,"y":10},{"p":"F","x":10,"y":15},{"p":"F","x":10,"y":20},{"p":"F","x":15,"y":0},{"p":"F","x":15,"y":5},{"p":"F","x":15,"y":10},{"p":"F","x":15,"y":15},{"p":"F","x":15,"y":20},{"p":"F","x":20,"y":0},{"p":"F","x":20,"y":5},{"p":"F","x":20,"y":10},{"p":"F","x":20,"y":15},{"p":"F","x":20,"y":20},{"p":"F","x":25,"y":0},{"p":"F","x":25,"y":5},{"p":"F","x":25,"y":10},{"p":"F","x":25,"y":15},{"p":"F","x":25,"y":20},
{"p":"G","x":5,"y":0},{"p":"G","x":5,"y":5},{"p":"G","x":5,"y":10},{"p":"G","x":10,"y":0},{"p":"G","x":10,"y":5},{"p":"G","x":10,"y":10},{"p":"G","x":10,"y":15},{"p":"G","x":10,"y":20},{"p":"G","x":15,"y":0},{"p":"G","x":15,"y":5},{"p":"G","x":15,"y":10},{"p":"G","x":15,"y":15},{"p":"G","x":15,"y":20},{"p":"G","x":20,"y":0},{"p":"G","x":20,"y":5},{"p":"G","x":20,"y":10},{"p":"G","x":20,"y":15},{"p":"G","x":20,"y":20},{"p":"G","x":25,"y":0},{"p":"G","x":25,"y":5},{"p":"G","x":25,"y":10},{"p":"G","x":25,"y":15},{"p":"G","x":25,"y":20},
{"p":"H","x":5,"y":0},{"p":"H","x":5,"y":5},{"p":"H","x":5,"y":10},{"p":"H","x":10,"y":0},{"p":"H","x":10,"y":5},{"p":"H","x":10,"y":10},{"p":"H","x":10,"y":15},{"p":"H","x":10,"y":20},{"p":"H","x":15,"y":0},{"p":"H","x":15,"y":5},{"p":"H","x":15,"y":10},{"p":"H","x":15,"y":15},{"p":"H","x":15,"y":20},{"p":"H","x":20,"y":0},{"p":"H","x":20,"y":5},{"p":"H","x":20,"y":10},{"p":"H","x":20,"y":15},{"p":"H","x":20,"y":20},{"p":"H","x":25,"y":0},{"p":"H","x":25,"y":5},{"p":"H","x":25,"y":10},{"p":"H","x":25,"y":15},{"p":"H","x":25,"y":20},
{"p":"I","x":5,"y":0},{"p":"I","x":5,"y":5},{"p":"I","x":5,"y":10},{"p":"I","x":10,"y":0},{"p":"I","x":10,"y":5},{"p":"I","x":10,"y":10},{"p":"I","x":10,"y":15},{"p":"I","x":10,"y":20},{"p":"I","x":15,"y":0},{"p":"I","x":15,"y":5},{"p":"I","x":15,"y":10},{"p":"I","x":15,"y":15},{"p":"I","x":15,"y":20},{"p":"I","x":20,"y":0},{"p":"I","x":20,"y":5},{"p":"I","x":20,"y":10},{"p":"I","x":20,"y":15},{"p":"I","x":20,"y":20},{"p":"I","x":25,"y":0},{"p":"I","x":25,"y":5},{"p":"I","x":25,"y":10},{"p":"I","x":25,"y":15},{"p":"I","x":25,"y":20}
],
"bottom":[
{"p":"A","x":5,"y":17.5},{"p":"A","x":10,"y":24.1},{"p":"A","x":15,"y":27.2},{"p":"A","x":20,"y":32.1},{"p":"A","x":25,"y":32.0},
{"p":"B","x":5,"y":17.6},{"p":"B","x":10,"y":24.1},{"p":"B","x":15,"y":27.2},{"p":"B","x":20,"y":32.2},{"p":"B","x":25,"y":32.1},
{"p":"C","x":5,"y":17.6},{"p":"C","x":10,"y":24.1},{"p":"C","x":15,"y":27.2},{"p":"C","x":20,"y":32.2},{"p":"C","x":25,"y":32.1},
{"p":"D","x":5,"y":15.5},{"p":"D","x":10,"y":24.0},{"p":"D","x":15,"y":29.2},{"p":"D","x":20,"y":29.4},{"p":"D","x":25,"y":31.4},
{"p":"E","x":5,"y":15.4},{"p":"E","x":10,"y":23.9},{"p":"E","x":15,"y":29.2},{"p":"E","x":20,"y":29.3},{"p":"E","x":25,"y":31.3},
{"p":"F","x":5,"y":15.5},{"p":"F","x":10,"y":24.0},{"p":"F","x":15,"y":29.2},{"p":"F","x":20,"y":29.4},{"p":"F","x":25,"y":31.4},
{"p":"G","x":5,"y":15.0},{"p":"G","x":10,"y":21.8},{"p":"G","x":15,"y":26.2},{"p":"G","x":20,"y":28.8},{"p":"G","x":25,"y":31.7},
{"p":"H","x":5,"y":15.0},{"p":"H","x":10,"y":21.8},{"p":"H","x":15,"y":26.2},{"p":"H","x":20,"y":28.8},{"p":"H","x":25,"y":31.8},
{"p":"I","x":5,"y":15.0},{"p":"I","x":10,"y":21.8},{"p":"I","x":15,"y":26.2},{"p":"I","x":20,"y":28.8},{"p":"I","x":25,"y":31.8}
]},
"bounds":"flush",
"columns":3,
"spacing":{"row":66,"column":22},
"concat":[
{"width":391,"height":298,"title":"Mar 2015","resolve":{"axis":{"x":"independent","y":"independent"}},
"encoding":{"x":{"field":"x","type":"quantitative","scale":{"domain":[4.46,25.54],"nice":false,"zero":false},"axis":null},"y":{"field":"y","type":"quantitative","scale":{"domain":[-1.31,33.3],"reverse":true,"nice":false,"zero":false},"axis":null}},
"layer":[
{"data":{"name":"lines"},"transform":[{"filter":"datum.p=='A'"}],"mark":{"type":"line","color":"black","strokeWidth":1.4},"encoding":{"x":{"field":"x","type":"quantitative","scale":{"domain":[4.46,25.54],"nice":false,"zero":false},"axis":{"orient":"top","values":[5,10,15,20,25],"title":null}},"y":{"field":"y","type":"quantitative","scale":{"domain":[-1.31,33.3],"reverse":true,"nice":false,"zero":false},"axis":{"orient":"left","values":[0,5,10,15,20,25,30],"title":"Depth (m)"}},"detail":{"field":"c"},"order":{"value":null}}},
{"data":{"name":"bottom"},"transform":[{"filter":"datum.p=='A'"}],"mark":{"type":"line","color":"#222","strokeWidth":1.3},"encoding":{"x":{"field":"x","type":"quantitative","scale":{"domain":[4.46,25.54],"nice":false,"zero":false},"axis":{"orient":"bottom","values":[5,10,15,20,25],"labels":false,"title":null}},"y":{"field":"y","type":"quantitative","scale":{"domain":[-1.31,33.3],"reverse":true,"nice":false,"zero":false},"axis":{"orient":"right","values":[0,5,10,15,20,25,30],"labels":false,"title":null}}}},
{"data":{"name":"bottom"},"transform":[{"filter":"datum.p=='A'"}],"mark":{"type":"point","shape":"circle","filled":true,"fill":"white","stroke":"#666","strokeWidth":1,"size":190,"opacity":1}},
{"data":{"name":"labels"},"transform":[{"filter":"datum.p=='A'"}],"mark":{"type":"text","fontSize":18,"color":"white","stroke":"white","strokeWidth":4},"encoding":{"text":{"field":"t"}}},
{"data":{"name":"labels"},"transform":[{"filter":"datum.p=='A'"}],"mark":{"type":"text","fontSize":18,"color":"black"},"encoding":{"text":{"field":"t"}}},
{"data":{"name":"dots"},"transform":[{"filter":"datum.p=='A'"}],"mark":{"type":"circle","color":"black","size":80,"opacity":1}}
]},
{"width":391,"height":298,"title":"Apr 2015","resolve":{"axis":{"x":"independent","y":"independent"}},
"encoding":{"x":{"field":"x","type":"quantitative","scale":{"domain":[4.46,25.54],"nice":false,"zero":false},"axis":null},"y":{"field":"y","type":"quantitative","scale":{"domain":[-1.31,33.3],"reverse":true,"nice":false,"zero":false},"axis":null}},
"layer":[
{"data":{"name":"lines"},"transform":[{"filter":"datum.p=='B'"}],"mark":{"type":"line","color":"black","strokeWidth":1.4},"encoding":{"x":{"field":"x","type":"quantitative","scale":{"domain":[4.46,25.54],"nice":false,"zero":false},"axis":{"orient":"top","values":[5,10,15,20,25],"title":null}},"y":{"field":"y","type":"quantitative","scale":{"domain":[-1.31,33.3],"reverse":true,"nice":false,"zero":false},"axis":{"orient":"left","values":[0,5,10,15,20,25,30],"labels":false,"title":null}},"detail":{"field":"c"},"order":{"value":null}}},
{"data":{"name":"bottom"},"transform":[{"filter":"datum.p=='B'"}],"mark":{"type":"line","color":"#222","strokeWidth":1.3},"encoding":{"x":{"field":"x","type":"quantitative","scale":{"domain":[4.46,25.54],"nice":false,"zero":false},"axis":{"orient":"bottom","values":[5,10,15,20,25],"labels":false,"title":null}},"y":{"field":"y","type":"quantitative","scale":{"domain":[-1.31,33.3],"reverse":true,"nice":false,"zero":false},"axis":{"orient":"right","values":[0,5,10,15,20,25,30],"labels":false,"title":null}}}},
{"data":{"name":"bottom"},"transform":[{"filter":"datum.p=='B'"}],"mark":{"type":"point","shape":"circle","filled":true,"fill":"white","stroke":"#666","strokeWidth":1,"size":190,"opacity":1}},
{"data":{"name":"labels"},"transform":[{"filter":"datum.p=='B'"}],"mark":{"type":"text","fontSize":18,"color":"white","stroke":"white","strokeWidth":4},"encoding":{"text":{"field":"t"}}},
{"data":{"name":"labels"},"transform":[{"filter":"datum.p=='B'"}],"mark":{"type":"text","fontSize":18,"color":"black"},"encoding":{"text":{"field":"t"}}},
{"data":{"name":"dots"},"transform":[{"filter":"datum.p=='B'"}],"mark":{"type":"circle","color":"black","size":80,"opacity":1}}
]},
{"width":391,"height":298,"title":"May 2015","resolve":{"axis":{"x":"independent","y":"independent"}},
"encoding":{"x":{"field":"x","type":"quantitative","scale":{"domain":[4.46,25.54],"nice":false,"zero":false},"axis":null},"y":{"field":"y","type":"quantitative","scale":{"domain":[-1.31,33.3],"reverse":true,"nice":false,"zero":false},"axis":null}},
"layer":[
{"data":{"name":"lines"},"transform":[{"filter":"datum.p=='C'"}],"mark":{"type":"line","color":"black","strokeWidth":1.4},"encoding":{"x":{"field":"x","type":"quantitative","scale":{"domain":[4.46,25.54],"nice":false,"zero":false},"axis":{"orient":"top","values":[5,10,15,20,25],"title":null}},"y":{"field":"y","type":"quantitative","scale":{"domain":[-1.31,33.3],"reverse":true,"nice":false,"zero":false},"axis":{"orient":"left","values":[0,5,10,15,20,25,30],"labels":false,"title":null}},"detail":{"field":"c"},"order":{"value":null}}},
{"data":{"name":"bottom"},"transform":[{"filter":"datum.p=='C'"}],"mark":{"type":"line","color":"#222","strokeWidth":1.3},"encoding":{"x":{"field":"x","type":"quantitative","scale":{"domain":[4.46,25.54],"nice":false,"zero":false},"axis":{"orient":"bottom","values":[5,10,15,20,25],"labels":false,"title":null}},"y":{"field":"y","type":"quantitative","scale":{"domain":[-1.31,33.3],"reverse":true,"nice":false,"zero":false},"axis":{"orient":"right","values":[0,5,10,15,20,25,30],"labels":false,"title":null}}}},
{"data":{"name":"bottom"},"transform":[{"filter":"datum.p=='C'"}],"mark":{"type":"point","shape":"circle","filled":true,"fill":"white","stroke":"#666","strokeWidth":1,"size":190,"opacity":1}},
{"data":{"name":"labels"},"transform":[{"filter":"datum.p=='C'"}],"mark":{"type":"text","fontSize":18,"color":"white","stroke":"white","strokeWidth":4},"encoding":{"text":{"field":"t"}}},
{"data":{"name":"labels"},"transform":[{"filter":"datum.p=='C'"}],"mark":{"type":"text","fontSize":18,"color":"black"},"encoding":{"text":{"field":"t"}}},
{"data":{"name":"dots"},"transform":[{"filter":"datum.p=='C'"}],"mark":{"type":"circle","color":"black","size":80,"opacity":1}}
]},
{"width":391,"height":298,"title":"Mar 2016","resolve":{"axis":{"x":"independent","y":"independent"}},
"encoding":{"x":{"field":"x","type":"quantitative","scale":{"domain":[4.46,25.54],"nice":false,"zero":false},"axis":null},"y":{"field":"y","type":"quantitative","scale":{"domain":[-1.28,32.5],"reverse":true,"nice":false,"zero":false},"axis":null}},
"layer":[
{"data":{"name":"lines"},"transform":[{"filter":"datum.p=='D'"}],"mark":{"type":"line","color":"black","strokeWidth":1.4},"encoding":{"x":{"field":"x","type":"quantitative","scale":{"domain":[4.46,25.54],"nice":false,"zero":false},"axis":{"orient":"top","values":[5,10,15,20,25],"labels":false,"title":null}},"y":{"field":"y","type":"quantitative","scale":{"domain":[-1.28,32.5],"reverse":true,"nice":false,"zero":false},"axis":{"orient":"left","values":[0,5,10,15,20,25,30],"title":"Depth (m)"}},"detail":{"field":"c"},"order":{"value":null}}},
{"data":{"name":"bottom"},"transform":[{"filter":"datum.p=='D'"}],"mark":{"type":"line","color":"#222","strokeWidth":1.3},"encoding":{"x":{"field":"x","type":"quantitative","scale":{"domain":[4.46,25.54],"nice":false,"zero":false},"axis":{"orient":"bottom","values":[5,10,15,20,25],"labels":false,"title":null}},"y":{"field":"y","type":"quantitative","scale":{"domain":[-1.28,32.5],"reverse":true,"nice":false,"zero":false},"axis":{"orient":"right","values":[0,5,10,15,20,25,30],"labels":false,"title":null}}}},
{"data":{"name":"bottom"},"transform":[{"filter":"datum.p=='D'"}],"mark":{"type":"point","shape":"circle","filled":true,"fill":"white","stroke":"#666","strokeWidth":1,"size":190,"opacity":1}},
{"data":{"name":"labels"},"transform":[{"filter":"datum.p=='D'"}],"mark":{"type":"text","fontSize":18,"color":"white","stroke":"white","strokeWidth":4},"encoding":{"text":{"field":"t"}}},
{"data":{"name":"labels"},"transform":[{"filter":"datum.p=='D'"}],"mark":{"type":"text","fontSize":18,"color":"black"},"encoding":{"text":{"field":"t"}}},
{"data":{"name":"dots"},"transform":[{"filter":"datum.p=='D'"}],"mark":{"type":"circle","color":"black","size":80,"opacity":1}}
]},
{"width":391,"height":298,"title":"Apr 2016","resolve":{"axis":{"x":"independent","y":"independent"}},
"encoding":{"x":{"field":"x","type":"quantitative","scale":{"domain":[4.46,25.54],"nice":false,"zero":false},"axis":null},"y":{"field":"y","type":"quantitative","scale":{"domain":[-1.28,32.5],"reverse":true,"nice":false,"zero":false},"axis":null}},
"layer":[
{"data":{"name":"lines"},"transform":[{"filter":"datum.p=='E'"}],"mark":{"type":"line","color":"black","strokeWidth":1.4},"encoding":{"x":{"field":"x","type":"quantitative","scale":{"domain":[4.46,25.54],"nice":false,"zero":false},"axis":{"orient":"top","values":[5,10,15,20,25],"labels":false,"title":null}},"y":{"field":"y","type":"quantitative","scale":{"domain":[-1.28,32.5],"reverse":true,"nice":false,"zero":false},"axis":{"orient":"left","values":[0,5,10,15,20,25,30],"labels":false,"title":null}},"detail":{"field":"c"},"order":{"value":null}}},
{"data":{"name":"bottom"},"transform":[{"filter":"datum.p=='E'"}],"mark":{"type":"line","color":"#222","strokeWidth":1.3},"encoding":{"x":{"field":"x","type":"quantitative","scale":{"domain":[4.46,25.54],"nice":false,"zero":false},"axis":{"orient":"bottom","values":[5,10,15,20,25],"labels":false,"title":null}},"y":{"field":"y","type":"quantitative","scale":{"domain":[-1.28,32.5],"reverse":true,"nice":false,"zero":false},"axis":{"orient":"right","values":[0,5,10,15,20,25,30],"labels":false,"title":null}}}},
{"data":{"name":"bottom"},"transform":[{"filter":"datum.p=='E'"}],"mark":{"type":"point","shape":"circle","filled":true,"fill":"white","stroke":"#666","strokeWidth":1,"size":190,"opacity":1}},
{"data":{"name":"labels"},"transform":[{"filter":"datum.p=='E'"}],"mark":{"type":"text","fontSize":18,"color":"white","stroke":"white","strokeWidth":4},"encoding":{"text":{"field":"t"}}},
{"data":{"name":"labels"},"transform":[{"filter":"datum.p=='E'"}],"mark":{"type":"text","fontSize":18,"color":"black"},"encoding":{"text":{"field":"t"}}},
{"data":{"name":"dots"},"transform":[{"filter":"datum.p=='E'"}],"mark":{"type":"circle","color":"black","size":80,"opacity":1}}
]},
{"width":391,"height":298,"title":"May 2016","resolve":{"axis":{"x":"independent","y":"independent"}},
"encoding":{"x":{"field":"x","type":"quantitative","scale":{"domain":[4.46,25.54],"nice":false,"zero":false},"axis":null},"y":{"field":"y","type":"quantitative","scale":{"domain":[-1.28,32.5],"reverse":true,"nice":false,"zero":false},"axis":null}},
"layer":[
{"data":{"name":"lines"},"transform":[{"filter":"datum.p=='F'"}],"mark":{"type":"line","color":"black","strokeWidth":1.4},"encoding":{"x":{"field":"x","type":"quantitative","scale":{"domain":[4.46,25.54],"nice":false,"zero":false},"axis":{"orient":"top","values":[5,10,15,20,25],"labels":false,"title":null}},"y":{"field":"y","type":"quantitative","scale":{"domain":[-1.28,32.5],"reverse":true,"nice":false,"zero":false},"axis":{"orient":"left","values":[0,5,10,15,20,25,30],"labels":false,"title":null}},"detail":{"field":"c"},"order":{"value":null}}},
{"data":{"name":"bottom"},"transform":[{"filter":"datum.p=='F'"}],"mark":{"type":"line","color":"#222","strokeWidth":1.3},"encoding":{"x":{"field":"x","type":"quantitative","scale":{"domain":[4.46,25.54],"nice":false,"zero":false},"axis":{"orient":"bottom","values":[5,10,15,20,25],"labels":false,"title":null}},"y":{"field":"y","type":"quantitative","scale":{"domain":[-1.28,32.5],"reverse":true,"nice":false,"zero":false},"axis":{"orient":"right","values":[0,5,10,15,20,25,30],"labels":false,"title":null}}}},
{"data":{"name":"bottom"},"transform":[{"filter":"datum.p=='F'"}],"mark":{"type":"point","shape":"circle","filled":true,"fill":"white","stroke":"#666","strokeWidth":1,"size":190,"opacity":1}},
{"data":{"name":"labels"},"transform":[{"filter":"datum.p=='F'"}],"mark":{"type":"text","fontSize":18,"color":"white","stroke":"white","strokeWidth":4},"encoding":{"text":{"field":"t"}}},
{"data":{"name":"labels"},"transform":[{"filter":"datum.p=='F'"}],"mark":{"type":"text","fontSize":18,"color":"black"},"encoding":{"text":{"field":"t"}}},
{"data":{"name":"dots"},"transform":[{"filter":"datum.p=='F'"}],"mark":{"type":"circle","color":"black","size":80,"opacity":1}}
]},
{"width":391,"height":298,"title":"Mar 2017","resolve":{"axis":{"x":"independent","y":"independent"}},
"encoding":{"x":{"field":"x","type":"quantitative","scale":{"domain":[4.46,25.54],"nice":false,"zero":false},"axis":null},"y":{"field":"y","type":"quantitative","scale":{"domain":[-1.3,32.9],"reverse":true,"nice":false,"zero":false},"axis":null}},
"layer":[
{"data":{"name":"lines"},"transform":[{"filter":"datum.p=='G'"}],"mark":{"type":"line","color":"black","strokeWidth":1.4},"encoding":{"x":{"field":"x","type":"quantitative","scale":{"domain":[4.46,25.54],"nice":false,"zero":false},"axis":{"orient":"top","values":[5,10,15,20,25],"labels":false,"title":null}},"y":{"field":"y","type":"quantitative","scale":{"domain":[-1.3,32.9],"reverse":true,"nice":false,"zero":false},"axis":{"orient":"left","values":[0,5,10,15,20,25,30],"title":"Depth (m)"}},"detail":{"field":"c"},"order":{"value":null}}},
{"data":{"name":"bottom"},"transform":[{"filter":"datum.p=='G'"}],"mark":{"type":"line","color":"#222","strokeWidth":1.3},"encoding":{"x":{"field":"x","type":"quantitative","scale":{"domain":[4.46,25.54],"nice":false,"zero":false},"axis":{"orient":"bottom","values":[5,10,15,20,25],"labelPadding":2,"title":"Distance (km)"}},"y":{"field":"y","type":"quantitative","scale":{"domain":[-1.3,32.9],"reverse":true,"nice":false,"zero":false},"axis":{"orient":"right","values":[0,5,10,15,20,25,30],"labels":false,"title":null}}}},
{"data":{"name":"bottom"},"transform":[{"filter":"datum.p=='G'"}],"mark":{"type":"point","shape":"circle","filled":true,"fill":"white","stroke":"#666","strokeWidth":1,"size":190,"opacity":1}},
{"data":{"name":"labels"},"transform":[{"filter":"datum.p=='G'"}],"mark":{"type":"text","fontSize":18,"color":"white","stroke":"white","strokeWidth":4},"encoding":{"text":{"field":"t"}}},
{"data":{"name":"labels"},"transform":[{"filter":"datum.p=='G'"}],"mark":{"type":"text","fontSize":18,"color":"black"},"encoding":{"text":{"field":"t"}}},
{"data":{"name":"dots"},"transform":[{"filter":"datum.p=='G'"}],"mark":{"type":"circle","color":"black","size":80,"opacity":1}}
]},
{"width":391,"height":298,"title":"Apr 2017","resolve":{"axis":{"x":"independent","y":"independent"}},
"encoding":{"x":{"field":"x","type":"quantitative","scale":{"domain":[4.46,25.54],"nice":false,"zero":false},"axis":null},"y":{"field":"y","type":"quantitative","scale":{"domain":[-1.3,32.9],"reverse":true,"nice":false,"zero":false},"axis":null}},
"layer":[
{"data":{"name":"lines"},"transform":[{"filter":"datum.p=='H'"}],"mark":{"type":"line","color":"black","strokeWidth":1.4},"encoding":{"x":{"field":"x","type":"quantitative","scale":{"domain":[4.46,25.54],"nice":false,"zero":false},"axis":{"orient":"top","values":[5,10,15,20,25],"labels":false,"title":null}},"y":{"field":"y","type":"quantitative","scale":{"domain":[-1.3,32.9],"reverse":true,"nice":false,"zero":false},"axis":{"orient":"left","values":[0,5,10,15,20,25,30],"labels":false,"title":null}},"detail":{"field":"c"},"order":{"value":null}}},
{"data":{"name":"bottom"},"transform":[{"filter":"datum.p=='H'"}],"mark":{"type":"line","color":"#222","strokeWidth":1.3},"encoding":{"x":{"field":"x","type":"quantitative","scale":{"domain":[4.46,25.54],"nice":false,"zero":false},"axis":{"orient":"bottom","values":[5,10,15,20,25],"labelPadding":2,"title":"Distance (km)"}},"y":{"field":"y","type":"quantitative","scale":{"domain":[-1.3,32.9],"reverse":true,"nice":false,"zero":false},"axis":{"orient":"right","values":[0,5,10,15,20,25,30],"labels":false,"title":null}}}},
{"data":{"name":"bottom"},"transform":[{"filter":"datum.p=='H'"}],"mark":{"type":"point","shape":"circle","filled":true,"fill":"white","stroke":"#666","strokeWidth":1,"size":190,"opacity":1}},
{"data":{"name":"labels"},"transform":[{"filter":"datum.p=='H'"}],"mark":{"type":"text","fontSize":18,"color":"white","stroke":"white","strokeWidth":4},"encoding":{"text":{"field":"t"}}},
{"data":{"name":"labels"},"transform":[{"filter":"datum.p=='H'"}],"mark":{"type":"text","fontSize":18,"color":"black"},"encoding":{"text":{"field":"t"}}},
{"data":{"name":"dots"},"transform":[{"filter":"datum.p=='H'"}],"mark":{"type":"circle","color":"black","size":80,"opacity":1}}
]},
{"width":391,"height":298,"title":"May 2017","resolve":{"axis":{"x":"independent","y":"independent"}},
"encoding":{"x":{"field":"x","type":"quantitative","scale":{"domain":[4.46,25.54],"nice":false,"zero":false},"axis":null},"y":{"field":"y","type":"quantitative","scale":{"domain":[-1.3,32.9],"reverse":true,"nice":false,"zero":false},"axis":null}},
"layer":[
{"data":{"name":"lines"},"transform":[{"filter":"datum.p=='I'"}],"mark":{"type":"line","color":"black","strokeWidth":1.4},"encoding":{"x":{"field":"x","type":"quantitative","scale":{"domain":[4.46,25.54],"nice":false,"zero":false},"axis":{"orient":"top","values":[5,10,15,20,25],"labels":false,"title":null}},"y":{"field":"y","type":"quantitative","scale":{"domain":[-1.3,32.9],"reverse":true,"nice":false,"zero":false},"axis":{"orient":"left","values":[0,5,10,15,20,25,30],"labels":false,"title":null}},"detail":{"field":"c"},"order":{"value":null}}},
{"data":{"name":"bottom"},"transform":[{"filter":"datum.p=='I'"}],"mark":{"type":"line","color":"#222","strokeWidth":1.3},"encoding":{"x":{"field":"x","type":"quantitative","scale":{"domain":[4.46,25.54],"nice":false,"zero":false},"axis":{"orient":"bottom","values":[5,10,15,20,25],"labelPadding":2,"title":"Distance (km)"}},"y":{"field":"y","type":"quantitative","scale":{"domain":[-1.3,32.9],"reverse":true,"nice":false,"zero":false},"axis":{"orient":"right","values":[0,5,10,15,20,25,30],"labels":false,"title":null}}}},
{"data":{"name":"bottom"},"transform":[{"filter":"datum.p=='I'"}],"mark":{"type":"point","shape":"circle","filled":true,"fill":"white","stroke":"#666","strokeWidth":1,"size":190,"opacity":1}},
{"data":{"name":"labels"},"transform":[{"filter":"datum.p=='I'"}],"mark":{"type":"text","fontSize":18,"color":"white","stroke":"white","strokeWidth":4},"encoding":{"text":{"field":"t"}}},
{"data":{"name":"labels"},"transform":[{"filter":"datum.p=='I'"}],"mark":{"type":"text","fontSize":18,"color":"black"},"encoding":{"text":{"field":"t"}}},
{"data":{"name":"dots"},"transform":[{"filter":"datum.p=='I'"}],"mark":{"type":"circle","color":"black","size":80,"opacity":1}}
]}
]
}
